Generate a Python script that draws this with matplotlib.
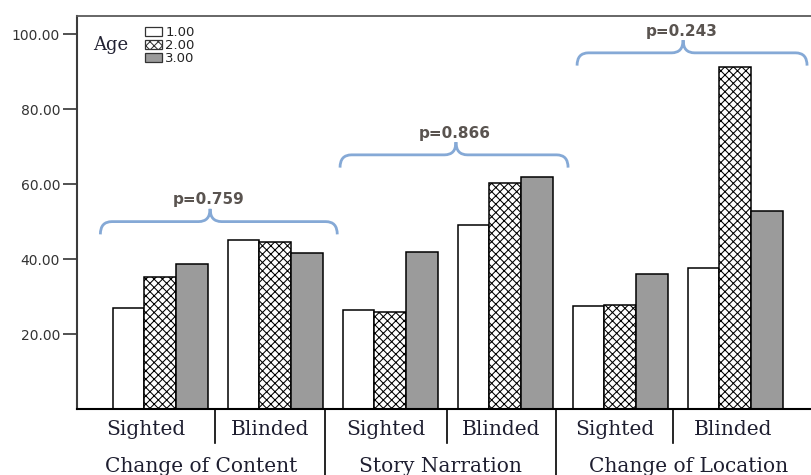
import numpy as np
import matplotlib
matplotlib.use('Agg')
import matplotlib.pyplot as plt
from matplotlib.patches import Patch, PathPatch
from matplotlib.path import Path

# data
ages = ['1.00', '2.00', '3.00']
conditions = ['Sighted', 'Blinded', 'Sighted', 'Blinded', 'Sighted', 'Blinded']
tasks = ['Change of Content', 'Story Narration', 'Change of Location']
p_values = ['p=0.759', 'p=0.866', 'p=0.243']
age_1 = [27.1, 45.1, 26.5, 49.3, 27.7, 37.6]
age_2 = [35.3, 44.7, 26.1, 60.4, 27.9, 91.3]
age_3 = [38.8, 41.7, 42.1, 62.0, 36.1, 53.0]
y_ticks = [20, 40, 60, 80, 100]

plt.rcParams['hatch.linewidth'] = 0.75
plt.rcParams['hatch.color'] = '#4a4a4a'

fig = plt.figure(figsize=(8.11, 4.75), dpi=100)
ax = fig.add_axes([0.0946, 0.1379, 0.9153, 0.829])

x = np.arange(len(conditions))
w = 0.275
hatch = 'xxxx'
styles = [dict(facecolor='white', hatch=None),
          dict(facecolor='white', hatch=hatch),
          dict(facecolor='#9b9b9b', hatch=None)]
for k, vals in enumerate([age_1, age_2, age_3]):
    ax.bar(x + (k - 1) * w, vals, width=w, edgecolor='black', linewidth=1.1,
           label=ages[k], zorder=2, **styles[k])

ax.set_xlim(-0.7255, 5.729)
ax.set_ylim(0, 105)
ax.set_yticks(y_ticks)
ax.set_yticklabels([f'{v:.2f}' for v in y_ticks])
ax.set_xticks([])
ax.tick_params(axis='y', length=10, width=1.2, color='#333333', pad=2,
               labelsize=10, labelcolor='#333333')
ax.spines['right'].set_visible(False)
ax.spines['left'].set_color('#3c3c3c')
ax.spines['left'].set_linewidth(1.5)
ax.spines['top'].set_color('#5a5a5a')
ax.spines['top'].set_linewidth(1.3)
ax.spines['bottom'].set_color('black')
ax.spines['bottom'].set_linewidth(1.5)


def brace(ax, x0, x1, xtip, y, d, r=0.1):
    verts = [(x0, y - d), (x0, y), (x0 + r, y),
             (xtip - r, y), (xtip, y), (xtip, y + d),
             (xtip, y), (xtip + r, y),
             (x1 - r, y), (x1, y), (x1, y - d)]
    codes = [Path.MOVETO, Path.CURVE3, Path.CURVE3,
             Path.LINETO, Path.CURVE3, Path.CURVE3,
             Path.CURVE3, Path.CURVE3,
             Path.LINETO, Path.CURVE3, Path.CURVE3]
    ax.add_patch(PathPatch(Path(verts, codes), facecolor='none',
                           edgecolor='#85a9d6', linewidth=2, zorder=3,
                           clip_on=False))


brace_y = [50.1, 67.9, 95.1]
brace_x = [(-0.52, 1.54), (1.564, 3.547), (3.625, 5.625)]
tips = [0.434, 2.572, 4.547]
for g in range(3):
    brace(ax, brace_x[g][0], brace_x[g][1], tips[g], brace_y[g], 3.4)
    ax.text(tips[g] - 0.01, brace_y[g] + 5.8, p_values[g], ha='center',
            va='center', fontsize=11, fontweight='bold', color='#5a5450')

# legend
ax.text(111 / 811, 1 - 45 / 475, 'Age', transform=fig.transFigure,
        ha='center', va='center', fontsize=13, family='DejaVu Serif',
        color='#222233')
handles = [Patch(facecolor=s['facecolor'], hatch=s['hatch'],
                 edgecolor='#333333', linewidth=0.9) for s in styles]
leg = ax.legend(handles, ages, loc='upper left', frameon=False,
                bbox_to_anchor=(145 / 811, 1 - 26 / 475),
                bbox_transform=fig.transFigure, fontsize=9.5, borderpad=0,
                handlelength=1.3, handleheight=0.7, handletextpad=0.25,
                labelspacing=0.0, borderaxespad=0)
for t in leg.get_texts():
    t.set_color('#222222')

# category labels under the axis
tr = ax.get_xaxis_transform()
bounds = [-0.7255, 0.477, 1.434, 2.494, 3.443, 4.46, 5.5]
for i, lab in enumerate(conditions):
    ax.text((bounds[i] + bounds[i + 1]) / 2, -0.052, lab, transform=tr,
            ha='center', va='center', fontsize=14.5, family='DejaVu Serif',
            color='#1e1e30')
for i, s in enumerate(bounds[1:-1]):
    full = i % 2 == 1
    ax.plot([s, s], [0, -0.17 if full else -0.086], transform=tr,
            color='black', linewidth=1.2, clip_on=False)
task_bounds = [-0.7255, 1.434, 3.443, 5.75]
for i, lab in enumerate(tasks):
    ax.text((task_bounds[i] + task_bounds[i + 1]) / 2, -0.144, lab,
            transform=tr, ha='center', va='center', fontsize=14.5,
            family='DejaVu Serif', color='#1e1e30')

fig.savefig('out.png', dpi=100)
